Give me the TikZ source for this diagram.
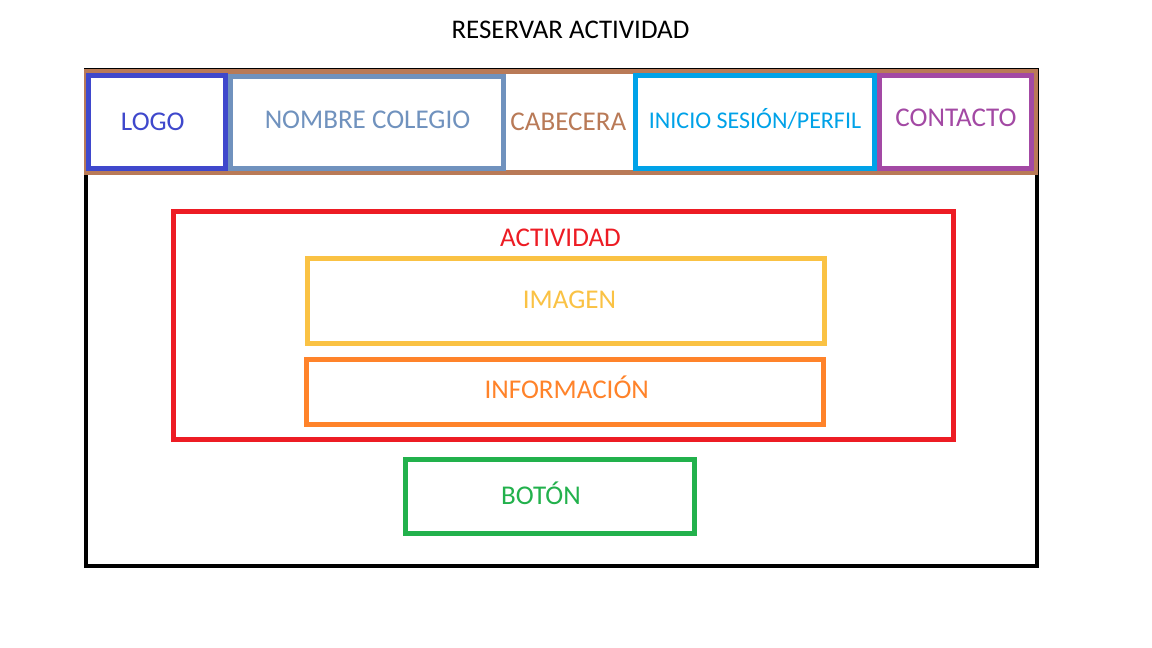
\documentclass[tikz,border=0pt]{standalone}
\usepackage{fontspec}
\setmainfont{Carlito}
\definecolor{cBlack}{HTML}{000000}
\definecolor{cLogo}{HTML}{3F48CC}
\definecolor{cNombre}{HTML}{7092BE}
\definecolor{cBrown}{HTML}{B97A57}
\definecolor{cCyan}{HTML}{00A2E8}
\definecolor{cPurple}{HTML}{A349A4}
\definecolor{cRed}{HTML}{ED1C24}
\definecolor{cYellow}{HTML}{FAC244}
\definecolor{cOrange}{HTML}{FF832A}
\definecolor{cGreen}{HTML}{22B14C}
\tikzset{
  boxline/.style={draw=#1, line width=3.75pt},
  lbl/.style={anchor=base, inner sep=0pt, text=#1, font=\fontsize{20.3pt}{23pt}\selectfont},
  lblsmall/.style={anchor=base, inner sep=0pt, text=#1, font=\fontsize{18pt}{21pt}\selectfont},
}
\begin{document}
\begin{tikzpicture}[x=0.75pt, y=-0.75pt]
\useasboundingbox (0,0) rectangle (1152,648);
\fill[white] (0,0) rectangle (1152,648);
% page frame
\draw[draw=cBlack, line width=3pt] (85.5,70) rectangle (1037,566);
% header band
\draw[boxline=cBrown] (86.5,71.5) rectangle (1035.5,172.5);
% header boxes
\draw[boxline=cLogo] (88.5,75.5) rectangle (225.5,168.5);
\draw[boxline=cNombre] (230.5,76.5) rectangle (503.5,168.5);
\draw[boxline=cCyan] (635.5,75.5) rectangle (874.5,168.5);
\draw[boxline=cPurple] (879,75.5) rectangle (1031,168.5);
% content boxes
\draw[boxline=cRed] (173.5,211.5) rectangle (953.5,439.5);
\draw[boxline=cYellow] (307.5,258.5) rectangle (824.5,343.5);
\draw[boxline=cOrange] (306.5,359.5) rectangle (823.5,424.5);
\draw[boxline=cGreen] (405.8,459.8) rectangle (694.8,533.2);
% labels
\node[anchor=base, inner sep=0pt, font=\fontsize{20.2pt}{23pt}\selectfont] (title) at (570.5,39) {RESERVAR ACTIVIDAD};
\node[lbl=cLogo] (logo) at (152.8,130.7) {LOGO};
\node[lbl=cNombre] (nombre) at (367.5,128.3) {NOMBRE COLEGIO};
\node[lbl=cBrown] (cabecera) at (568.3,130.7) {CABECERA};
\node[lblsmall=cCyan] (inicio) at (755,128.3) {INICIO SESIÓN/PERFIL};
\node[lbl=cPurple] (contacto) at (956,126.7) {CONTACTO};
\node[lbl=cRed] (actividad) at (560.5,247) {ACTIVIDAD};
\node[lbl=cYellow] (imagen) at (569.5,309) {IMAGEN};
\node[lbl=cOrange] (informacion) at (566.7,398.3) {INFORMACIÓN};
\node[lbl=cGreen] (boton) at (541,504) {BOTÓN};
\end{tikzpicture}
\end{document}
